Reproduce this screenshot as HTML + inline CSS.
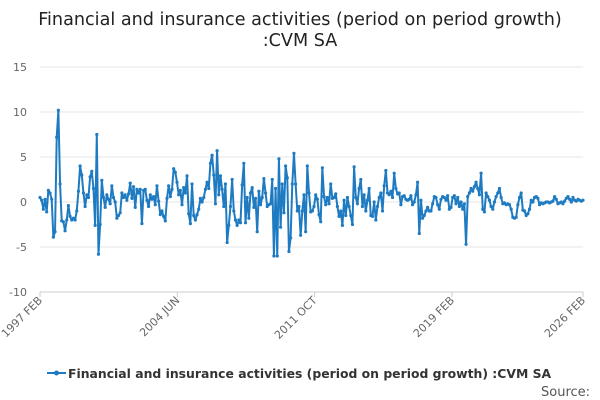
<!DOCTYPE html>
<html><head><meta charset="utf-8"><style>
body{margin:0;background:#fff;font-family:"DejaVu Sans","Liberation Sans",sans-serif;}
svg{display:block}
</style></head><body>
<svg id="chart" width="600" height="400">
<text x="300" y="25" text-anchor="middle" font-size="17.6" fill="#222">Financial and insurance activities (period on period growth)</text>
<text x="300" y="46" text-anchor="middle" font-size="17.6" fill="#222">:CVM SA</text>
<g id="grid"></g><g id="xaxis"></g><g id="series"></g>
<g>
<line x1="47" y1="373" x2="66" y2="373" stroke="#1f7bc1" stroke-width="2"/>
<circle cx="56.5" cy="373" r="2.5" fill="#1f7bc1"/>
<text x="68" y="378" font-size="12.4" font-weight="bold" fill="#333">Financial and insurance activities (period on period growth) :CVM SA</text>
</g>
<text x="541" y="396" font-size="13" fill="#555">Source:</text>
</svg>
<script>
const yTicks=[15,10,5,0,-5,-10];
const xTickLabels=["1997 FEB","2004 JUN","2011 OCT","2019 FEB","2026 FEB"];
const xTickMonths=[0,88,176,264,348];
const values=[0.5,0.2,-0.8,0.3,-1.1,1.3,1.0,0.3,-3.9,-3.3,7.2,10.2,2.0,-2.1,-2.2,-3.2,-2.0,-0.4,-1.6,-2.0,-1.8,
-2.0,-1.0,1.2,4.0,3.0,1.0,-0.5,0.8,0.5,2.8,3.4,1.5,-2.6,7.5,-5.8,-2.5,2.4,0.5,-0.6,0.8,
0.3,-0.2,1.8,0.5,0.0,-1.8,-1.5,-1.2,1.0,0.5,0.8,0.2,0.9,2.1,0.4,1.7,-0.6,1.4,1.0,1.4,
-2.4,1.3,1.4,0.2,-0.5,0.8,0.3,0.6,-0.3,1.8,0.1,-1.4,-1.0,-1.6,-2.1,0.4,1.8,0.6,1.4,3.7,
3.3,2.2,0.8,1.3,-0.3,1.6,1.0,2.9,-1.3,-2.4,2.0,-1.5,-2.0,-1.4,-0.8,0.4,0.0,0.5,1.4,2.2,
1.5,4.3,5.2,3.0,-0.2,5.7,0.8,2.9,1.4,-0.5,2.0,-4.5,-2.6,-0.5,2.5,-1.0,-2.0,-2.6,-2.0,-2.3,
1.9,4.3,-2.3,0.5,-1.8,1.0,1.6,-0.6,0.4,-3.3,1.2,-0.3,0.5,2.6,1.0,-0.5,-0.3,-0.2,2.5,-6.0,
1.5,-6.0,4.8,-2.8,2.0,-1.2,4.0,2.7,-5.5,-4.0,2.0,5.4,2.0,-1.0,-0.5,-3.7,-1.0,0.8,-3.3,4.0,
1.0,-1.1,-1.0,-0.5,0.8,0.3,-1.4,-2.2,3.8,0.6,-0.3,0.5,-0.2,2.0,0.4,0.5,0.9,-0.5,-1.6,-1.0,
-2.6,0.2,-1.5,0.5,-0.5,-1.5,-2.5,3.9,0.5,-0.2,1.5,2.5,-0.5,0.8,-1.0,0.2,1.5,-1.5,-1.6,0.0,
-2.0,-0.5,0.5,1.0,-1.0,1.8,3.5,1.0,0.8,1.2,0.5,3.2,1.5,0.9,1.0,-0.3,0.6,0.7,0.3,0.2,
0.3,0.7,-0.3,0.0,0.8,2.2,-3.5,0.2,-1.8,-1.5,-1.0,-0.6,-1.0,-1.0,-0.2,0.6,0.5,-0.3,-0.8,0.3,
0.6,0.5,0.2,0.7,-0.8,-0.6,0.5,0.7,-0.2,0.5,-0.5,0.0,-0.8,-0.2,-4.7,
0.6,1.0,1.5,1.2,1.7,2.2,1.5,0.8,3.2,-0.8,-1.1,1.0,0.6,0.2,-0.5,-0.8,0.0,0.6,1.0,1.5,
0.5,-0.2,-0.1,-0.3,-0.2,-0.3,-0.8,-1.7,-1.8,-1.7,-0.3,0.5,1.0,-0.9,-1.0,-1.5,-1.3,-0.8,0.2,0.0,
0.5,0.6,0.4,-0.3,-0.1,-0.2,-0.1,0.0,0.0,-0.1,0.0,0.1,0.6,0.3,-0.2,-0.1,0.0,-0.2,0.1,0.4,
0.6,0.3,0.0,0.5,0.2,0.1,0.3,0.2,0.1,0.2];
const X0=40,X1=583,Y0=202,PPU=9,NS="http://www.w3.org/2000/svg";
const xs=i=>X0+i*(X1-X0)/(values.length-1);
const xm=m=>X0+m*(X1-X0)/348;
const ys=v=>Y0-v*PPU;
const grid=document.getElementById('grid');
yTicks.forEach(t=>{
const l=document.createElementNS(NS,'line');


l.setAttribute('x1',40);l.setAttribute('x2',583);l.setAttribute('y1',ys(t));l.setAttribute('y2',ys(t));
l.setAttribute('stroke',t===-10?'#ccc':'#e6e6e6');grid.appendChild(l);
const tx=document.createElementNS(NS,'text');


tx.setAttribute('x',27);tx.setAttribute('y',ys(t)+4);tx.setAttribute('text-anchor','end');
tx.setAttribute('font-size','11');tx.setAttribute('fill','#666');tx.textContent=t;grid.appendChild(tx);
});
const xa=document.getElementById('xaxis');
xTickLabels.forEach((lab,k)=>{
const x=xm(xTickMonths[k]);
const tk=document.createElementNS(NS,'line');


tk.setAttribute('x1',x);tk.setAttribute('x2',x);tk.setAttribute('y1',292);tk.setAttribute('y2',297);tk.setAttribute('stroke','#ccc');xa.appendChild(tk);
const t=document.createElementNS(NS,'text');


t.setAttribute('transform',`translate(${x+3},${301}) rotate(-45)`);
t.setAttribute('text-anchor','end');t.setAttribute('font-size','11');t.setAttribute('fill','#666');
t.textContent=lab;xa.appendChild(t);
});
const sg=document.getElementById('series');
const p=document.createElementNS(NS,'polyline');


p.setAttribute('points',values.map((v,i)=>xs(i)+','+ys(v)).join(' '));
p.setAttribute('fill','none');p.setAttribute('stroke','#1f7bc1');p.setAttribute('stroke-width','2');p.setAttribute('stroke-linejoin','round');
sg.appendChild(p);
values.forEach((v,i)=>{
const c=document.createElementNS(NS,'circle');


c.setAttribute('cx',xs(i));c.setAttribute('cy',ys(v));c.setAttribute('r','1.6');c.setAttribute('fill','#1f7bc1');
sg.appendChild(c);
});
</script>
</body></html>
